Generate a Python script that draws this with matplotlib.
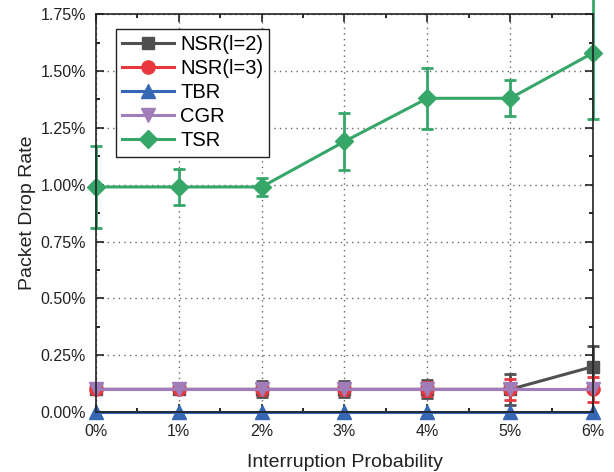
import numpy as np
import matplotlib
matplotlib.use("Agg")
import matplotlib.pyplot as plt
from matplotlib.ticker import MultipleLocator, FuncFormatter

plt.rcParams['font.family'] = ['Liberation Sans', 'DejaVu Sans']

x = [0, 1, 2, 3, 4, 5, 6]
x_labels = ['0%', '1%', '2%', '3%', '4%', '5%', '6%']

nsr2 = [0.10, 0.10, 0.10, 0.10, 0.10, 0.10, 0.20]
nsr2_err = [0.0, 0.0, 0.035, 0.035, 0.04, 0.068, 0.09]
nsr3 = [0.10, 0.10, 0.10, 0.10, 0.10, 0.10, 0.10]
nsr3_err = [0.0, 0.0, 0.025, 0.025, 0.03, 0.045, 0.055]
tbr = [0.0, 0.0, 0.0, 0.0, 0.0, 0.0, 0.0]
cgr = [0.10, 0.10, 0.10, 0.10, 0.10, 0.10, 0.10]
tsr = [0.99, 0.99, 0.99, 1.19, 1.38, 1.38, 1.58]
tsr_err = [0.18, 0.08, 0.04, 0.125, 0.135, 0.08, 0.29]

series = [
    ("NSR(l=2)", nsr2, nsr2_err, '#505050', 's', 8.5),
    ("NSR(l=3)", nsr3, nsr3_err, '#e8383d', 'o', 9.5),
    ("TBR", tbr, None, '#3567b5', '^', 10),
    ("CGR", cgr, None, '#a07cb8', 'v', 10),
    ("TSR", tsr, tsr_err, '#36a769', 'D', 9),
]

fig = plt.figure(figsize=(6.14, 4.72), dpi=100)
ax = fig.add_axes([0.156, 0.127, 0.810, 0.843])

handles = []
for name, ys, err, col, mk, ms in series:
    cont = ax.errorbar(x, ys, yerr=err, color=col, marker=mk, markersize=ms,
                       linewidth=2.2, elinewidth=2, capsize=4, capthick=2,
                       label=name, clip_on=False)
    handles.append(cont.lines[0])

ax.set_xlim(0, 6)
ax.set_ylim(0, 1.75)
ax.set_xticks(x)
ax.set_xticklabels(x_labels)
ax.xaxis.set_minor_locator(MultipleLocator(0.5))
ax.yaxis.set_major_locator(MultipleLocator(0.25))
ax.yaxis.set_minor_locator(MultipleLocator(0.125))
ax.yaxis.set_major_formatter(FuncFormatter(lambda v, p: "{:.2f}%".format(v)))
ax.tick_params(which='both', direction='in', top=True, right=True, width=1.2)
ax.tick_params(which='major', length=6, labelsize=11.5, colors='#222222')
ax.tick_params(which='minor', length=3)
ax.tick_params(axis='x', which='major', pad=8.5)
ax.tick_params(axis='y', which='major', pad=7)
for s in ax.spines.values():
    s.set_linewidth(1.2)
    s.set_color('#222222')
ax.grid(True, which='major', linestyle=(0, (1, 3)), color='#666666', linewidth=1)
ax.set_axisbelow(True)

ax.set_xlabel("Interruption Probability", fontsize=14, color='#222222', labelpad=11)
ax.set_ylabel("Packet Drop Rate", fontsize=14, color='#222222', labelpad=3)

leg = ax.legend(handles=handles, labels=[s[0] for s in series],
                loc='upper left', bbox_to_anchor=(0.04, 0.962), borderaxespad=0,
                fontsize=14.5, fancybox=False, edgecolor='#222222', framealpha=1,
                handlelength=2.6, handletextpad=0.3, labelspacing=0.25,
                borderpad=0.3, numpoints=1)
leg.get_frame().set_linewidth(1.0)

fig.savefig("out.png", dpi=100)
